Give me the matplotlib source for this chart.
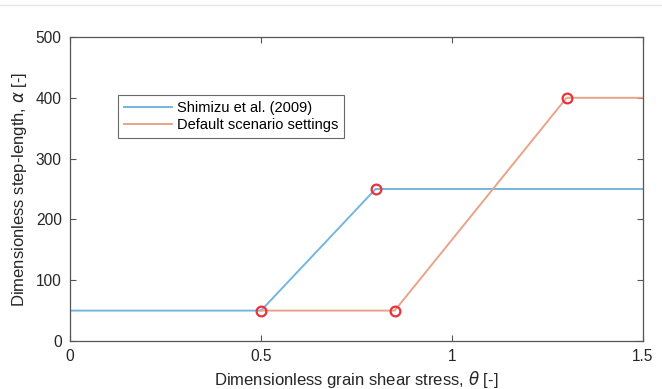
import matplotlib
matplotlib.use("Agg")
import matplotlib.pyplot as plt

plt.rcParams['font.family'] = ['Liberation Sans', 'DejaVu Sans']

# data
shimizu_x = [0.0, 0.5, 0.8, 1.5]
shimizu_y = [50, 50, 250, 250]
default_x = [0.5, 0.85, 1.3, 1.5]
default_y = [50, 50, 400, 400]
break_x = [0.5, 0.8, 0.85, 1.3]
break_y = [50, 250, 50, 400]
xticks = [0, 0.5, 1, 1.5]
xticklabels = ['0', '0.5', '1', '1.5']
yticks = [0, 100, 200, 300, 400, 500]

fig = plt.figure(figsize=(6.62, 3.89), dpi=100)
ax = fig.add_axes([70 / 662, 1 - 341 / 389, 573 / 662, 304 / 389])

# faint page separator at the top
fig.add_artist(plt.Line2D([0, 1], [1 - 5 / 389, 1 - 5 / 389], color='#e6e6e6', lw=1))

ax.plot(shimizu_x, shimizu_y, color='#74b6dc', lw=1.4, label='Shimizu et al. (2009)')
ax.plot(default_x, default_y, color='#e8a488', lw=1.4, label='Default scenario settings')
ax.plot(break_x, break_y, 'o', ms=7, mfc='none', mec='#e8323c', mew=1.6, zorder=5)

ax.set_xlim(0, 1.5)
ax.set_ylim(0, 500)
ax.set_xticks(xticks)
ax.set_xticklabels(xticklabels)
ax.set_yticks(yticks)
ax.tick_params(direction='in', top=True, right=True, length=4, width=0.8,
               colors='#555555', labelcolor='#262626', labelsize=11.2, pad=6)
for s in ax.spines.values():
    s.set_color('#555555')
    s.set_linewidth(0.9)

ax.set_xlabel(r'Dimensionless grain shear stress, $\theta$ [-]', fontsize=12,
              color='#262626', labelpad=3)
ax.set_ylabel(r'Dimensionless step-length, $\alpha$ [-]', fontsize=12,
              color='#262626', labelpad=5)

leg = ax.legend(loc='upper left', bbox_to_anchor=(48 / 573, 1 - 58 / 304),
                fontsize=10.5, frameon=True, fancybox=False, handlelength=3.3,
                borderpad=0.4, borderaxespad=0, labelspacing=0.2, handletextpad=0.35)
leg.get_frame().set_edgecolor('#444444')
leg.get_frame().set_linewidth(0.8)

fig.savefig('out.png', dpi=100)
